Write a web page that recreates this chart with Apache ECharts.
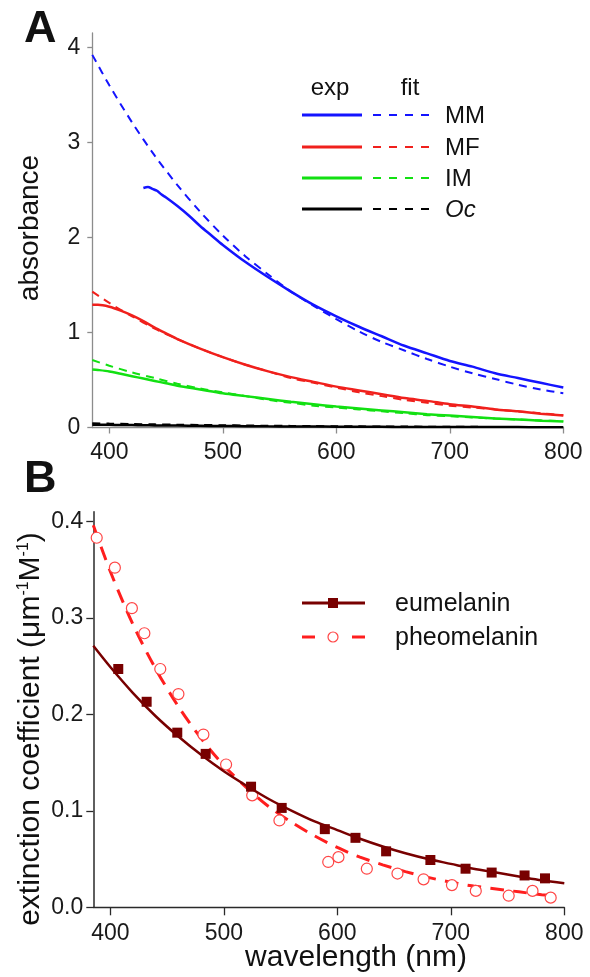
<!DOCTYPE html>
<html>
<head>
<meta charset="utf-8">
<script src="https://cdn.jsdelivr.net/npm/echarts@6/dist/echarts.min.js"></script>
<style>html,body{margin:0;padding:0;background:#fff}#c{width:590px;height:977px}</style>
</head>
<body>
<div id="c"></div>
<script>
// ---------- Panel A data ----------
const xTicks = [400, 500, 600, 700, 800];
const yTicksA = [0, 1, 2, 3, 4];
const yTicksB = [0, 0.1, 0.2, 0.3, 0.4];

const fitWlA = [385,400,420,440,460,480,500,520,540,560,580,600,620,640,660,680,700,720,740,760,780,800];
const mmFit = [3.92,3.60,3.21,2.86,2.55,2.27,2.02,1.80,1.61,1.43,1.28,1.14,1.01,0.90,0.81,0.72,0.64,0.57,0.51,0.45,0.40,0.36];
const mfFit = [1.43,1.31,1.17,1.04,0.93,0.83,0.74,0.66,0.59,0.52,0.47,0.42,0.37,0.33,0.29,0.26,0.23,0.21,0.19,0.17,0.15,0.13];
const imFit = [0.71,0.65,0.58,0.52,0.46,0.41,0.37,0.33,0.29,0.26,0.23,0.21,0.19,0.17,0.15,0.13,0.12,0.105,0.094,0.084,0.075,0.065];
const ocFit = [0.045,0.041,0.037,0.033,0.030,0.027,0.024,0.021,0.019,0.017,0.015,0.013,0.012,0.011,0.010,0.009,0.008,0.007,0.006,0.006,0.005,0.005];

const mmExpWl = [430,434,438,442,446,450,460,470,480,490,500,520,540,560,580,600,620,640,660,680,700,720,740,760,780,800];
const mmExp = [2.52,2.53,2.51,2.49,2.45,2.42,2.33,2.23,2.12,2.02,1.92,1.74,1.58,1.43,1.29,1.17,1.06,0.96,0.86,0.78,0.70,0.64,0.57,0.52,0.47,0.42];

const expWl = [385,390,400,410,420,430,440,450,460,480,500,520,540,560,580,600,620,640,660,680,700,720,740,760,780,800];
const mfExp = [1.29,1.29,1.27,1.23,1.18,1.12,1.05,0.99,0.93,0.83,0.74,0.66,0.59,0.53,0.48,0.43,0.39,0.35,0.31,0.28,0.245,0.22,0.19,0.17,0.145,0.125];
const imExp = [0.61,0.605,0.59,0.565,0.54,0.515,0.49,0.465,0.44,0.40,0.36,0.33,0.30,0.27,0.245,0.22,0.20,0.18,0.16,0.14,0.125,0.11,0.095,0.085,0.072,0.062];
const ocExp = [0.03,0.029,0.028,0.026,0.025,0.023,0.022,0.021,0.02,0.018,0.016,0.014,0.012,0.011,0.01,0.009,0.008,0.007,0.006,0.006,0.005,0.005,0.004,0.004,0.003,0.003];

// ---------- Panel B data ----------
const euWl = [407,432,459,484,524,551,589,616,643,682,713,736,765,783];
const euVal = [0.247,0.213,0.181,0.159,0.125,0.103,0.081,0.072,0.058,0.049,0.040,0.036,0.033,0.030];
const pheoWl = [388,404,419,430,444,460,482,502,525,549,592,601,626,653,676,701,722,751,772,788];
const pheoVal = [0.383,0.352,0.310,0.284,0.247,0.221,0.179,0.148,0.116,0.090,0.047,0.052,0.040,0.035,0.029,0.023,0.017,0.012,0.017,0.010];
const euFitWl = [385,400,420,440,460,480,500,520,540,560,580,600,620,640,660,680,700,720,740,760,780,800];
const euFit = [0.271,0.249,0.222,0.198,0.177,0.158,0.141,0.126,0.112,0.100,0.089,0.080,0.071,0.063,0.056,0.050,0.045,0.040,0.036,0.032,0.028,0.025];
const pheoFitWl = [385,400,420,440,460,480,500,520,540,560,580,600,620,640,660,680,700,720,740,760,780,790];
const pheoFit = [0.396,0.348,0.293,0.247,0.208,0.175,0.147,0.124,0.104,0.088,0.074,0.062,0.052,0.044,0.037,0.031,0.026,0.022,0.019,0.016,0.013,0.012];

const legendA = ['MM','MF','IM','Oc'];
const legendB = ['eumelanin','pheomelanin'];

// ---------- styling ----------
const FONT = '"Liberation Sans", Arial, Helvetica, sans-serif';
const C = { MM:'#1414ff', MF:'#f0201c', IM:'#12e012', Oc:'#000000', eu:'#780000', pheo:'#ff1e1e', pheoPt:'#ff4646' };
const zip = (xs, ys) => xs.map((x, i) => [x, ys[i]]);

function line(name, xi, xs, ys, color, dashed, width) {
  return {
    name, type: 'line', xAxisIndex: xi, yAxisIndex: xi,
    data: zip(xs, ys), showSymbol: false, symbol: 'none', smooth: 0.3,
    lineStyle: { color, width, type: dashed ? dashed : 'solid', cap: 'butt' },
    z: dashed ? 2 : 3, silent: true
  };
}

function axisX(gi, col, tickLen, margin) {
  return {
    type: 'value', gridIndex: gi, min: 385, max: 800,
    axisLine: { show: true, onZero: false, lineStyle: { color: col, width: 1.3 } },
    axisTick: { show: true, length: tickLen, lineStyle: { color: col, width: 1.3 }, customValues: xTicks },
    axisLabel: { customValues: xTicks, fontSize: 23, color: '#1a1a1a', fontFamily: FONT, margin },
    splitLine: { show: false }
  };
}

const chart = echarts.init(document.getElementById('c'), null, { renderer: 'canvas' });

const graphics = [];
// panel letters
graphics.push({ type: 'text', x: 24, y: 30, style: { text: 'A', font: 'bold 45px ' + FONT, fill: '#111', textAlign: 'left', textVerticalAlign: 'middle' } });
graphics.push({ type: 'text', x: 24, y: 480, style: { text: 'B', font: 'bold 45px ' + FONT, fill: '#111', textAlign: 'left', textVerticalAlign: 'middle' } });
// axis titles
graphics.push({ type: 'text', x: 30, y: 228, rotation: Math.PI / 2, style: { text: 'absorbance', font: '28px ' + FONT, fill: '#111', textAlign: 'center', textVerticalAlign: 'middle' } });
graphics.push({ type: 'text', x: 31, y: 729, rotation: Math.PI / 2, style: {
  text: 'extinction coefficient (μm{sup|-1}M{sup|-1})', font: '30px ' + FONT, fill: '#111', textAlign: 'center', textVerticalAlign: 'middle',
  rich: { sup: { fontSize: 16, fontFamily: FONT, fill: '#111', verticalAlign: 'top' } } } });
graphics.push({ type: 'text', x: 356, y: 958, style: { text: 'wavelength (nm)', font: '30px ' + FONT, fill: '#111', textAlign: 'center', textVerticalAlign: 'middle' } });

// legend A
graphics.push({ type: 'text', x: 330, y: 88, style: { text: 'exp', font: '24px ' + FONT, fill: '#111', textAlign: 'center', textVerticalAlign: 'middle' } });
graphics.push({ type: 'text', x: 410, y: 88, style: { text: 'fit', font: '24px ' + FONT, fill: '#111', textAlign: 'center', textVerticalAlign: 'middle' } });
const rowsA = [115, 147, 178, 209];
legendA.forEach((k, i) => {
  const y = rowsA[i];
  graphics.push({ type: 'line', shape: { x1: 302, y1: y, x2: 362, y2: y }, style: { stroke: C[k], lineWidth: 3 } });
  graphics.push({ type: 'line', shape: { x1: 373, y1: y, x2: 430, y2: y }, style: { stroke: C[k], lineWidth: 2, lineDash: [8, 8] } });
  graphics.push({ type: 'text', x: 445, y: y + 1, style: { text: k, font: (k === 'Oc' ? 'italic ' : '') + '24px ' + FONT, fill: '#111', textAlign: 'left', textVerticalAlign: 'middle' } });
});

// legend B
const rowsB = [603, 637];
graphics.push({ type: 'line', shape: { x1: 302, y1: rowsB[0], x2: 365, y2: rowsB[0] }, style: { stroke: C.eu, lineWidth: 3 } });
graphics.push({ type: 'rect', shape: { x: 328, y: rowsB[0] - 5, width: 10, height: 10 }, style: { fill: C.eu } });
graphics.push({ type: 'line', shape: { x1: 302, y1: rowsB[1], x2: 315, y2: rowsB[1] }, style: { stroke: C.pheo, lineWidth: 3 } });
graphics.push({ type: 'line', shape: { x1: 352, y1: rowsB[1], x2: 365, y2: rowsB[1] }, style: { stroke: C.pheo, lineWidth: 3 } });
graphics.push({ type: 'circle', shape: { cx: 333, cy: rowsB[1], r: 5 }, style: { fill: '#fff', stroke: C.pheoPt, lineWidth: 1.2 } });
legendB.forEach((k, i) => {
  graphics.push({ type: 'text', x: 395, y: rowsB[i] + 1, style: { text: k, font: '25px ' + FONT, fill: '#111', textAlign: 'left', textVerticalAlign: 'middle' } });
});

const option = {
  animation: false,
  backgroundColor: '#fff',
  textStyle: { fontFamily: FONT },
  grid: [
    { left: 92.3, top: 33, width: 471, height: 394.5, outerBoundsMode: 'none', containLabel: false },
    { left: 93.3, top: 511.7, width: 471, height: 395.6, outerBoundsMode: 'none', containLabel: false }
  ],
  xAxis: [ axisX(0, '#8c8c8c', 6, 14), axisX(1, '#2a2a2a', 8, 15) ],
  yAxis: [
    { type: 'value', gridIndex: 0, min: 0, max: 4.15,
      axisLine: { show: true, onZero: false, lineStyle: { color: '#8c8c8c', width: 1.3 } },
      axisTick: { show: true, length: 5, lineStyle: { color: '#8c8c8c', width: 1.3 }, customValues: yTicksA },
      axisLabel: { customValues: yTicksA, fontSize: 23, color: '#1a1a1a', fontFamily: FONT, margin: 12 },
      splitLine: { show: false } },
    { type: 'value', gridIndex: 1, min: 0, max: 0.41,
      axisLine: { show: true, onZero: false, lineStyle: { color: '#2a2a2a', width: 1.5 } },
      axisTick: { show: true, length: 7, lineStyle: { color: '#2a2a2a', width: 1.3 }, customValues: yTicksB },
      axisLabel: { customValues: yTicksB, fontSize: 23, color: '#1a1a1a', fontFamily: FONT, margin: 10, formatter: v => v.toFixed(1) },
      splitLine: { show: false } }
  ],
  series: [
    line('Oc fit', 0, fitWlA, ocFit, C.Oc, [8, 6], 2),
    line('IM fit', 0, fitWlA, imFit, C.IM, [8, 6], 2),
    line('MF fit', 0, fitWlA, mfFit, C.MF, [8, 6], 2),
    line('MM fit', 0, fitWlA, mmFit, C.MM, [8, 6], 2),
    line('Oc exp', 0, expWl, ocExp, C.Oc, null, 2.5),
    line('IM exp', 0, expWl, imExp, C.IM, null, 2.5),
    line('MF exp', 0, expWl, mfExp, C.MF, null, 2.5),
    line('MM exp', 0, mmExpWl, mmExp, C.MM, null, 2.5),
    line('eumelanin fit', 1, euFitWl, euFit, C.eu, null, 2.5),
    { name: 'pheomelanin', type: 'scatter', xAxisIndex: 1, yAxisIndex: 1, data: zip(pheoWl, pheoVal),
      symbol: 'circle', symbolSize: 11, itemStyle: { color: '#fff', borderColor: C.pheoPt, borderWidth: 1.2, opacity: 1 }, z: 2, silent: true },
    line('pheomelanin fit', 1, pheoFitWl, pheoFit, C.pheo, [14, 9], 3),
    { name: 'eumelanin', type: 'scatter', xAxisIndex: 1, yAxisIndex: 1, data: zip(euWl, euVal),
      symbol: 'rect', symbolSize: 10, itemStyle: { color: C.eu, opacity: 1 }, z: 4, silent: true }
  ],
  graphic: graphics
};
chart.setOption(option);
</script>
</body>
</html>
